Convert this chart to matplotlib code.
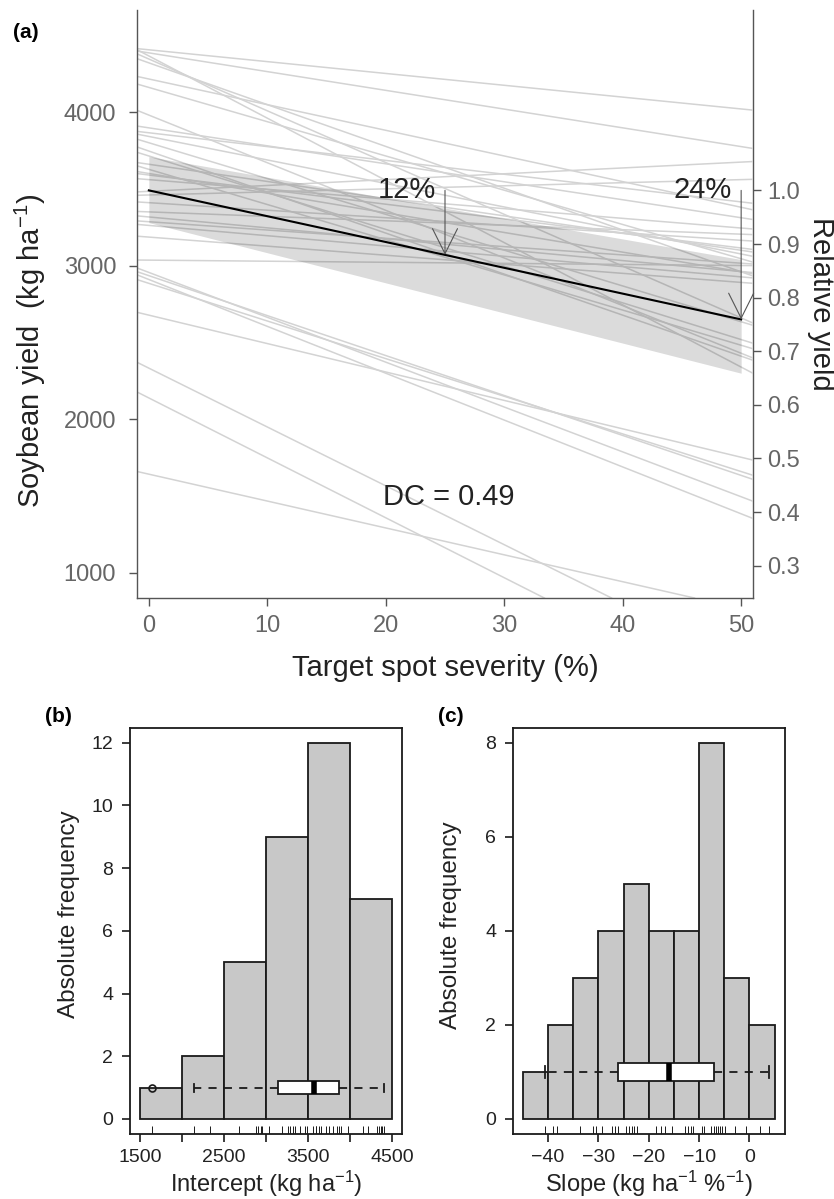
"""
Target spot severity vs soybean yield: study-level regression lines (a),
with histograms of intercepts (b) and slopes (c).
"""

import numpy as np
import matplotlib
matplotlib.use("Agg")
import matplotlib.pyplot as plt

plt.rcParams["font.family"] = ["Liberation Sans", "DejaVu Sans"]
plt.rcParams["mathtext.fontset"] = "custom"
plt.rcParams["mathtext.rm"] = "Liberation Sans"
plt.rcParams["mathtext.it"] = "Liberation Sans:italic"
plt.rcParams["mathtext.bf"] = "Liberation Sans:bold"

# ── Data ───────────────────────────────────────────────────────────────────────
# one intercept / slope pair per study (kg/ha, kg/ha per % severity)
intercepts = [1643, 2139, 2333, 2678, 2885, 2910, 2935, 2956, 3036, 3186,
              3262, 3286, 3317, 3350, 3410, 3460, 3484, 3560, 3590, 3600,
              3627, 3660, 3714, 3746, 3800, 3841, 3865, 3897, 3980, 4160,
              4215, 4320, 4345, 4365, 4385, 4405]
slopes = [-17.5, -39.0, -38.3, -18.5, -24.5, -30.5, -26.0, -29.2, -0.7, -5.9,
          -6.7, -5.4, -7.1, -2.9, -4.9, 2.0, 3.8, -6.3, -9.5, -12.8,
          -22.9, -11.2, -23.9, -26.7, -23.3, -15.3, -9.0, -11.7, -31.0, -22.3,
          -16.7, -27.2, -33.7, -40.5, -12.2, -7.7]

# overall (mixed model) fit and its confidence band
mean_intercept = 3490
mean_slope = -16.8
band_sev = [0, 50]
band_low = [3280, 2300]
band_high = [3710, 3040]
arrow_sev = [25, 50]
dc_value = 0.49

sev_ticks = [0, 10, 20, 30, 40, 50]
yield_ticks = [1000, 2000, 3000, 4000]
rel_ticks = [0.3, 0.4, 0.5, 0.6, 0.7, 0.8, 0.9, 1.0]

int_bins = [1500, 2000, 2500, 3000, 3500, 4000, 4500]
int_ticks = [1500, 2000, 2500, 3000, 3500, 4000, 4500]
int_labels = ["1500", "", "2500", "", "3500", "", "4500"]
slope_bins = [-45, -40, -35, -30, -25, -20, -15, -10, -5, 0, 5]
slope_ticks = [-40, -30, -20, -10, 0]

W, H = 834, 1199
GREY_TXT = "#666666"
AXIS_COL = "#555555"
INK = "#1a1a1a"


def fx(px):
    return px / W


def fy(py):
    return 1 - py / H


fig = plt.figure(figsize=(W / 100, H / 100), dpi=100)

# ── (a) regression lines ──────────────────────────────────────────────────────
ax = fig.add_axes([fx(137), fy(598), fx(753 - 137), (598 - 10) / H])

for a, b in zip(intercepts, slopes):
    ax.axline((0, a), slope=b, color="#d3d3d3", lw=1.1, zorder=1)

sev = np.array(band_sev)
ax.fill_between(band_sev, band_low, band_high, color="black", alpha=0.14,
                lw=0, zorder=2)
ax.plot(sev, mean_intercept + mean_slope * sev, color="black", lw=1.5, zorder=3)

for s in arrow_sev:
    y_end = mean_intercept + mean_slope * s
    loss = (mean_intercept - y_end) / mean_intercept * 100
    ax.annotate("", xy=(s, y_end), xytext=(s, mean_intercept),
                arrowprops=dict(arrowstyle="->,head_length=0.9,head_width=0.45",
                                color="#555555", lw=0.8, shrinkA=0, shrinkB=0,
                                mutation_scale=20),
                zorder=4)
    ax.text(s - 0.8, mean_intercept, f"{loss:.0f}%", ha="right", va="center",
            fontsize=21, color="#222222", zorder=5)

ax.text(25.3, 1492, f"DC = {dc_value:.2f}", ha="center", va="center",
        fontsize=21, color="#222222")

ax.set_xlim(-1, 51)
ax.set_ylim(837, 4664)
ax.set_xticks(sev_ticks)
ax.set_yticks(yield_ticks)
ax.spines["top"].set_visible(False)
ax.spines["right"].set_visible(False)
for sp in ("left", "bottom"):
    ax.spines[sp].set_color(AXIS_COL)
    ax.spines[sp].set_linewidth(1.0)
ax.tick_params(length=6, width=1.0, color=AXIS_COL, labelcolor=GREY_TXT,
               labelsize=17)
ax.tick_params(axis="x", pad=6)
ax.tick_params(axis="y", pad=9)

sec = ax.secondary_yaxis("right", functions=(lambda y: y / mean_intercept,
                                             lambda r: r * mean_intercept))
sec.set_yticks(rel_ticks)
sec.set_yticklabels([f"{r:.1f}" for r in rel_ticks])
sec.spines["right"].set_color(AXIS_COL)
sec.spines["right"].set_linewidth(1.0)
sec.tick_params(length=6, width=1.0, color=AXIS_COL, labelcolor=GREY_TXT,
                labelsize=17, pad=4)

fig.text(fx(30), fy(351), "Soybean yield  (kg ha$^{-1}$)", rotation=90,
         ha="center", va="center", fontsize=21, color="#222222")
fig.text(fx(821), fy(304), "Relative yield", rotation=270,
         ha="center", va="center", fontsize=21, color="#222222")
fig.text(fx(445), fy(668), "Target spot severity (%)",
         ha="center", va="center", fontsize=21, color="#222222")
fig.text(fx(13), fy(33), "(a)", ha="left", va="center", fontsize=15,
         fontweight="bold")


# ── (b), (c) histograms ───────────────────────────────────────────────────────
def hist_panel(left, values, bins, xlim, ylim, xticks, xlabels, yticks,
               xlabel, ylab_y, ylab_x):
    hx = fig.add_axes([fx(left), fy(1134), 272 / W, (1134 - 727.7) / H])
    hx.hist(values, bins=bins, color="#c8c8c8", edgecolor=INK, linewidth=1.3,
            zorder=1)
    hx.boxplot(values, orientation="horizontal", positions=[1], widths=0.4,
               capwidths=0.25, patch_artist=True, manage_ticks=False,
               boxprops=dict(facecolor="white", edgecolor=INK, linewidth=1.3),
               medianprops=dict(color="black", linewidth=4,
                                solid_capstyle="butt"),
               whiskerprops=dict(color=INK, linewidth=1.3,
                                 linestyle=(0, (4.5, 4))),
               capprops=dict(color=INK, linewidth=1.3),
               flierprops=dict(marker="o", markerfacecolor="none",
                               markeredgecolor=INK, markersize=5,
                               markeredgewidth=1.2),
               zorder=3)
    hx.vlines(values, 0, 0.02, transform=hx.get_xaxis_transform(),
              color=INK, lw=0.7)
    hx.set_xlim(*xlim)
    hx.set_ylim(*ylim)
    hx.set_xticks(xticks)
    hx.set_xticklabels(xlabels)
    hx.set_yticks(yticks)
    for sp in hx.spines.values():
        sp.set_color(INK)
        sp.set_linewidth(1.3)
    hx.tick_params(length=6, width=1.2, color=INK, labelcolor="#222222",
                   labelsize=14)
    hx.tick_params(axis="x", pad=5)
    hx.tick_params(axis="y", pad=6)
    fig.text(fx(left + 136), fy(1192), xlabel, ha="center", va="baseline",
             fontsize=17, color="#222222")
    fig.text(fx(ylab_x), fy(ylab_y), "Absolute frequency", rotation=90,
             ha="center", va="center", fontsize=17.5, color="#222222")
    return hx


hist_panel(130, intercepts, int_bins, (1380, 4620), (-0.48, 12.48),
           int_ticks, int_labels, [0, 2, 4, 6, 8, 10, 12],
           "Intercept (kg ha$^{-1}$)", 914, 69)
fig.text(fx(45), fy(717), "(b)", ha="left", va="center", fontsize=15,
         fontweight="bold")

hist_panel(512.7, slopes, slope_bins, (-47, 7), (-0.32, 8.32),
           slope_ticks, [f"{t:g}".replace("-", "\u2212") for t in slope_ticks],
           [0, 2, 4, 6, 8],
           "Slope (kg ha$^{-1}$ %$^{-1}$)", 925, 451)
fig.text(fx(438), fy(717), "(c)", ha="left", va="center", fontsize=15,
         fontweight="bold")

fig.savefig("out.png", dpi=100)
